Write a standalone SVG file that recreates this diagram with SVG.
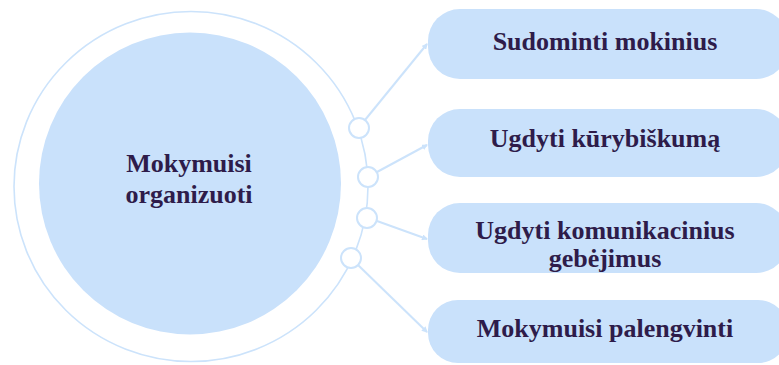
<svg xmlns="http://www.w3.org/2000/svg" width="779" height="365" viewBox="0 0 779 365">
<style>
.ring{fill:none;stroke:#cce3fb;stroke-width:1.6}
.hub{fill:#c9e1fb}
.dot{fill:#ffffff;stroke:#cce3fb;stroke-width:2}
.box{fill:#c9e1fb}
.link{fill:none;stroke:#cce3fb;stroke-width:2}
.t{font-family:"Liberation Serif","Times New Roman",serif;font-weight:bold;font-size:26px;fill:#2e1c4a;text-anchor:middle}
</style>
<defs>
<marker id="ah" markerWidth="6" markerHeight="6" refX="5" refY="3" orient="auto" markerUnits="userSpaceOnUse">
<path d="M0,0 L6,3 L0,6 z" fill="#cce3fb"/>
</marker>
</defs>
<rect width="779" height="365" fill="#ffffff"/>
<g id="center">
<ellipse class="ring" cx="191" cy="186.5" rx="177" ry="175"/>
<circle class="hub" cx="190" cy="183.5" r="151"/>
<text class="t" x="189" y="172">Mokymuisi</text>
<text class="t" x="189" y="203">organizuoti</text>
</g>
<g id="connectors">
<line class="link" x1="365" y1="120" x2="427" y2="44" marker-end="url(#ah)"/>
<line class="link" x1="377" y1="172" x2="427" y2="145" marker-end="url(#ah)"/>
<line class="link" x1="377" y1="221" x2="427" y2="239" marker-end="url(#ah)"/>
<line class="link" x1="358" y1="265" x2="427" y2="332" marker-end="url(#ah)"/>
<circle class="dot" cx="359" cy="128" r="10"/>
<circle class="dot" cx="368" cy="177" r="10"/>
<circle class="dot" cx="367" cy="218" r="10"/>
<circle class="dot" cx="351" cy="258" r="10"/>
</g>
<g id="n1">
<rect class="box" x="428" y="9" width="360" height="70" rx="32"/>
<text class="t" x="605" y="50">Sudominti mokinius</text>
</g>
<g id="n2">
<rect class="box" x="428" y="109" width="360" height="68" rx="32"/>
<text class="t" x="605" y="147">Ugdyti kūrybiškumą</text>
</g>
<g id="n3">
<rect class="box" x="428" y="203" width="360" height="70" rx="32"/>
<text class="t" x="605" y="239">Ugdyti komunikacinius</text>
<text class="t" x="605" y="267">gebėjimus</text>
</g>
<g id="n4">
<rect class="box" x="428" y="300" width="360" height="63" rx="30"/>
<text class="t" x="605" y="337">Mokymuisi palengvinti</text>
</g>
</svg>
